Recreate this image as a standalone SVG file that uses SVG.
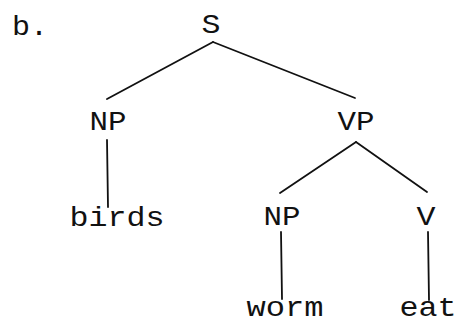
<svg xmlns="http://www.w3.org/2000/svg" width="457" height="323" viewBox="0 0 457 323">
<style>
text{font-family:"Liberation Mono","Courier New",monospace;font-size:28px;fill:#111;text-anchor:middle}
.e{stroke:#111;stroke-width:1.8;fill:none;stroke-linecap:round}
</style>
<rect width="457" height="323" fill="#fff"/>
<text x="30" y="35" textLength="36" lengthAdjust="spacingAndGlyphs">b.</text>
<g id="connectors">
<line class="e" x1="213" y1="42" x2="107" y2="99"/>
<line class="e" x1="213" y1="42" x2="355" y2="98"/>
<line class="e" x1="107" y1="140" x2="108" y2="207"/>
<line class="e" x1="356" y1="142" x2="280" y2="193"/>
<line class="e" x1="356" y1="142" x2="427" y2="192"/>
<line class="e" x1="281" y1="232" x2="282" y2="299"/>
<line class="e" x1="428" y1="232" x2="429" y2="300"/>
</g>
<g id="S"><text x="211" y="33" textLength="19" lengthAdjust="spacingAndGlyphs">S</text></g>
<g id="NP1"><text x="108" y="130" textLength="37" lengthAdjust="spacingAndGlyphs">NP</text></g>
<g id="VP"><text x="356" y="130" textLength="37" lengthAdjust="spacingAndGlyphs">VP</text></g>
<g id="birds"><text x="117" y="226" textLength="95" lengthAdjust="spacingAndGlyphs">birds</text></g>
<g id="NP2"><text x="282" y="225" textLength="37" lengthAdjust="spacingAndGlyphs">NP</text></g>
<g id="V"><text x="426" y="225" textLength="19" lengthAdjust="spacingAndGlyphs">V</text></g>
<g id="worm"><text x="285" y="316" textLength="77" lengthAdjust="spacingAndGlyphs">worm</text></g>
<g id="eat"><text x="428" y="316" textLength="57" lengthAdjust="spacingAndGlyphs">eat</text></g>
</svg>
